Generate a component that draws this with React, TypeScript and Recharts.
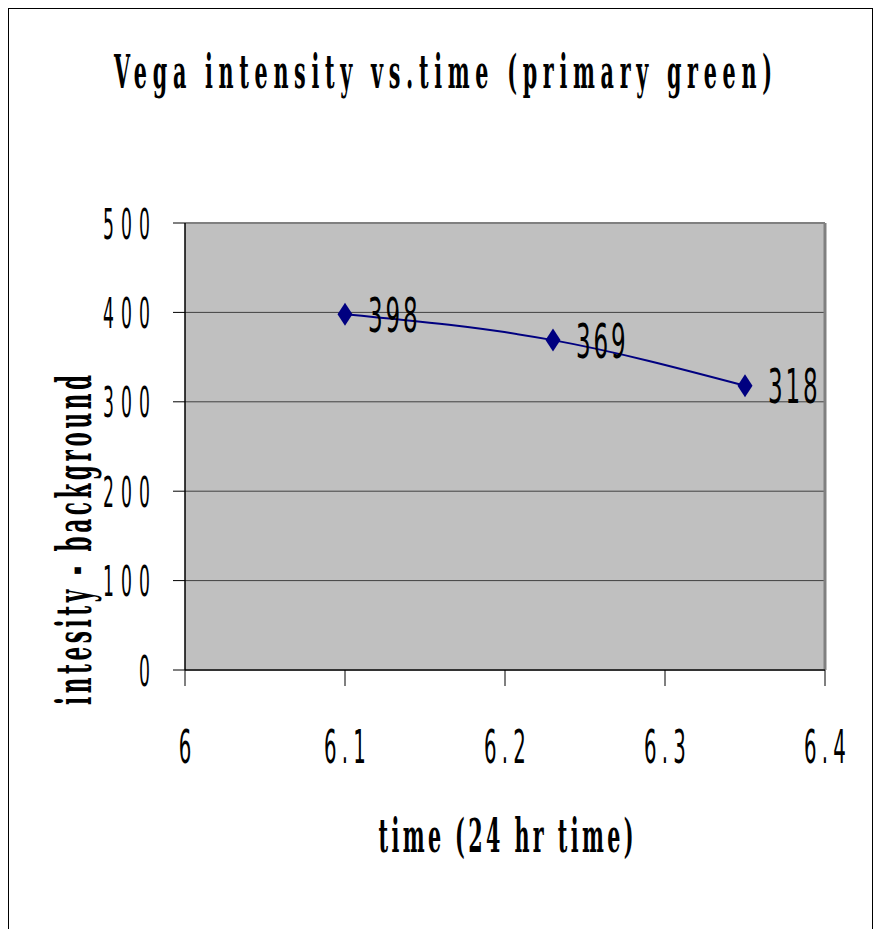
import React from 'react';
import { LineChart, Line, XAxis, YAxis, CartesianGrid, ReferenceLine } from 'recharts';

const times = [6.1, 6.23, 6.35];
const intensities = [398, 369, 318];
const xTicks = [6, 6.1, 6.2, 6.3, 6.4];
const yTicks = [0, 100, 200, 300, 400, 500];
const chartTitle = 'Vega intensity vs.time (primary green)';
const xTitle = 'time (24 hr time)';
const yTitle = 'intesity - background';

const data = times.map((t, i) => ({ t, v: intensities[i] }));

const W = 863;
const H = 930;
const NAVY = '#000080';
const TICK_FONT = '"DejaVu Sans", sans-serif';
const BOLD_FONT = '"DejaVu Serif", "Liberation Serif", serif';

const XTick = (props: any) => {
  const { x, y, payload } = props;
  const s = 0.43;
  const ls = 12;
  return (
    <text
      transform={`translate(${x + (ls * s) / 2} ${y + 75}) scale(${s} 1)`}
      textAnchor="middle"
      fontFamily={TICK_FONT}
      fontSize={46}
      letterSpacing={ls}
      fill="#000"
    >
      {String(payload.value)}
    </text>
  );
};

const YTick = (props: any) => {
  const { x, y, payload } = props;
  const s = 0.4;
  const ls = 17.7;
  return (
    <text
      transform={`translate(${x - 14} ${y + 15.5}) scale(${s} 1)`}
      textAnchor="end"
      fontFamily={TICK_FONT}
      fontSize={43}
      letterSpacing={ls}
      fill="#000"
    >
      {String(payload.value)}
    </text>
  );
};

const DiamondDot = (props: any) => {
  const { cx, cy, payload } = props;
  if (cx == null || cy == null) return null;
  return (
    <g>
      <polygon
        points={`${cx},${cy - 11.5} ${cx + 7.5},${cy} ${cx},${cy + 11.5} ${cx - 7.5},${cy}`}
        fill={NAVY}
      />
      <text
        transform={`translate(${cx + 23} ${cy + 17.5}) scale(0.48 1)`}
        textAnchor="start"
        fontFamily={TICK_FONT}
        fontSize={48}
        letterSpacing={6}
        fill="#000"
      >
        {String(payload.v)}
      </text>
    </g>
  );
};

const BoldText = ({ x, y, s, width, size, rotate, children }: any) => (
  <text
    transform={`translate(${x} ${y})${rotate ? ' rotate(-90)' : ''} scale(${s} 1) translate(${-width / s / 2} 0)`}
    textAnchor="start"
    fontFamily={BOLD_FONT}
    fontWeight="bold"
    fontSize={size}
    textLength={width / s}
    lengthAdjust="spacing"
    fill="#000"
  >
    {children}
  </text>
);

export default function App() {
  return (
    <div
      style={{
        position: 'fixed',
        left: 8,
        top: 8,
        width: W,
        height: H,
        borderLeft: '1px solid #000',
        borderTop: '1px solid #000',
        borderRight: '1px solid #000',
        background: '#fff',
      }}
    >
      <LineChart
        width={W}
        height={H}
        data={data}
        margin={{ top: 214, right: 47, left: 0, bottom: 169 }}
      >
        <CartesianGrid fill="#C0C0C0" stroke="#404040" vertical={false} />
        <XAxis
          type="number"
          dataKey="t"
          domain={[6, 6.4]}
          ticks={xTicks}
          tickSize={16}
          height={100}
          axisLine={{ stroke: '#333', strokeWidth: 2 }}
          tickLine={{ stroke: '#000' }}
          tick={<XTick />}
          interval={0}
        />
        <YAxis
          type="number"
          domain={[0, 500]}
          ticks={yTicks}
          tickSize={12}
          width={176}
          axisLine={{ stroke: '#000', strokeWidth: 1.5 }}
          tickLine={{ stroke: '#000' }}
          tick={<YTick />}
          interval={0}
        />
        <ReferenceLine y={500} stroke="#808080" strokeWidth={2} />
        <ReferenceLine x={6.4} stroke="#808080" strokeWidth={3} />
        <Line
          type="monotone"
          dataKey="v"
          stroke={NAVY}
          strokeWidth={2}
          dot={<DiamondDot />}
          activeDot={false}
          isAnimationActive={false}
        />
      </LineChart>
      <svg
        width={W}
        height={H}
        style={{ position: 'absolute', left: 0, top: 0, pointerEvents: 'none' }}
      >
        <BoldText x={434} y={79} s={0.45} width={658} size={46}>
          {chartTitle}
        </BoldText>
        <BoldText x={497} y={843} s={0.45} width={255} size={46}>
          {xTitle}
        </BoldText>
        <BoldText x={82} y={531} s={0.45} width={330} size={48} rotate>
          {yTitle}
        </BoldText>
      </svg>
    </div>
  );
}
